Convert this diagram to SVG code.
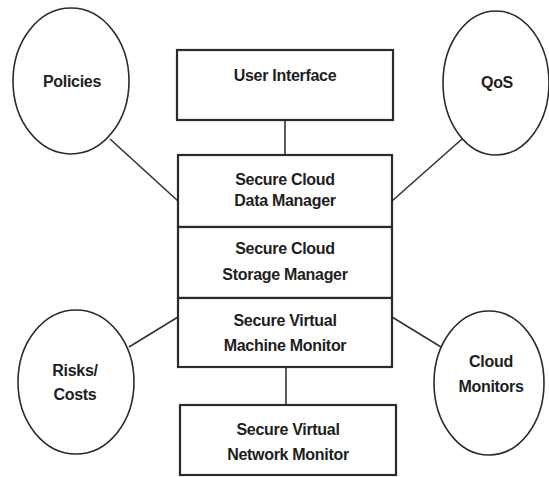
<svg xmlns="http://www.w3.org/2000/svg" width="549" height="477" viewBox="0 0 549 477">
<style>
  .box { fill: #ffffff; stroke: #2b2b2b; stroke-width: 2.2; }
  .oval { fill: #ffffff; stroke: #2b2b2b; stroke-width: 1.6; }
  .conn { stroke: #333333; stroke-width: 1.6; fill: none; }
  text { font-family: "Liberation Sans", Arial, sans-serif; font-size: 16px; font-weight: bold; fill: #1e1e1e; text-anchor: middle; letter-spacing: -0.3px; }
</style>
<rect width="549" height="477" fill="#ffffff"/>
<g id="connectors">
  <line class="conn" x1="285" y1="120" x2="285" y2="155"/>
  <line class="conn" x1="286" y1="367" x2="286" y2="405"/>
  <line class="conn" x1="110" y1="139" x2="178" y2="201"/>
  <line class="conn" x1="462" y1="139" x2="392" y2="201"/>
  <line class="conn" x1="129" y1="347" x2="178" y2="317"/>
  <line class="conn" x1="441" y1="347" x2="392" y2="317"/>
</g>
<g id="policies">
  <ellipse class="oval" cx="71" cy="81" rx="58" ry="73"/>
  <text x="72" y="87">Policies</text>
</g>
<g id="qos">
  <ellipse class="oval" cx="496" cy="83" rx="53" ry="72"/>
  <text x="497" y="88">QoS</text>
</g>
<g id="risks-costs">
  <ellipse class="oval" cx="76" cy="382" rx="58" ry="72"/>
  <text x="75" y="376">Risks/</text>
  <text x="75" y="400">Costs</text>
</g>
<g id="cloud-monitors">
  <ellipse class="oval" cx="489" cy="383" rx="55" ry="72"/>
  <text x="491" y="367">Cloud</text>
  <text x="491" y="392">Monitors</text>
</g>
<g id="user-interface">
  <rect class="box" x="177" y="50" width="216" height="70"/>
  <text x="285" y="81">User Interface</text>
</g>
<g id="data-manager">
  <rect class="box" x="178" y="155" width="214" height="72"/>
  <text x="285" y="185">Secure Cloud</text>
  <text x="285" y="206">Data Manager</text>
</g>
<g id="storage-manager">
  <rect class="box" x="178" y="227" width="214" height="71"/>
  <text x="285" y="254">Secure Cloud</text>
  <text x="285" y="280">Storage Manager</text>
</g>
<g id="vm-monitor">
  <rect class="box" x="178" y="298" width="214" height="69"/>
  <text x="285" y="326">Secure Virtual</text>
  <text x="285" y="351">Machine Monitor</text>
</g>
<g id="network-monitor">
  <rect class="box" x="180" y="405" width="216" height="70"/>
  <text x="288" y="435">Secure Virtual</text>
  <text x="288" y="460">Network Monitor</text>
</g>
</svg>
